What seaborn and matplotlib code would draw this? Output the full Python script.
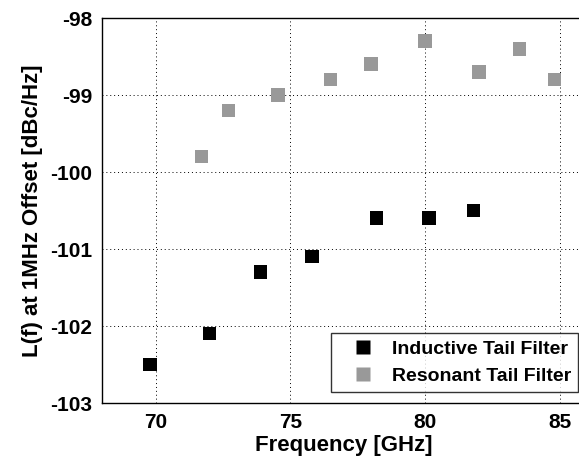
import matplotlib
matplotlib.use("Agg")
import matplotlib.pyplot as plt
import seaborn as sns
import pandas as pd

ind_freq = [69.8, 72.0, 73.9, 75.8, 78.2, 80.15, 81.8]
ind_pn = [-102.5, -102.1, -101.3, -101.1, -100.6, -100.6, -100.5]
res_freq = [71.7, 72.7, 74.55, 76.5, 78.0, 80.0, 82.0, 83.5, 84.8]
res_pn = [-99.8, -99.2, -99.0, -98.8, -98.6, -98.3, -98.7, -98.4, -98.8]
series = ["Inductive Tail Filter", "Resonant Tail Filter"]
xticks = [70, 75, 80, 85]
yticks = [-103, -102, -101, -100, -99, -98]

df = pd.concat([
    pd.DataFrame({"f": ind_freq, "pn": ind_pn, "s": series[0]}),
    pd.DataFrame({"f": res_freq, "pn": res_pn, "s": series[1]}),
])

sns.set_style("white")
plt.rcParams["font.family"] = ["Liberation Sans", "DejaVu Sans"]
plt.rcParams["font.weight"] = "bold"
plt.rcParams["axes.unicode_minus"] = False
plt.rcParams["text.color"] = "black"
plt.rcParams["axes.labelcolor"] = "black"

fig = plt.figure(figsize=(5.79, 4.61), dpi=100)
ax = fig.add_axes([101.7 / 579, 1 - 403 / 461, (586.7 - 101.7) / 579, (403 - 18) / 461])

sns.scatterplot(data=df, x="f", y="pn", hue="s", hue_order=series,
                palette={series[0]: "black", series[1]: "#999999"},
                marker="s", s=95, edgecolor="none", ax=ax, zorder=3)

ax.set_xlim(68, 86)
ax.set_ylim(-103, -98)
ax.set_xticks(xticks)
ax.set_yticks(yticks)
ax.grid(True, color="black", linestyle=(0, (1, 3)), linewidth=0.7)
for sp in ax.spines.values():
    sp.set_color("black")
    sp.set_linewidth(1.0)
ax.tick_params(direction="in", length=4, labelsize=15, colors="black",
               labelcolor="black", width=0.7)
ax.tick_params(axis="y", pad=7)
ax.tick_params(axis="x", pad=7)
for lab in ax.get_xticklabels() + ax.get_yticklabels():
    lab.set_fontweight("bold")
ax.set_xlabel("Frequency [GHz]", fontsize=16, fontweight="bold", labelpad=2, color="black")
ax.set_ylabel("L(f) at 1MHz Offset [dBc/Hz]", fontsize=16, fontweight="bold", labelpad=5, color="black")

leg = ax.legend(loc="lower left", bbox_to_anchor=(330.7 / 579, 1 - 392 / 461),
                bbox_transform=fig.transFigure,
                frameon=True, fancybox=False, edgecolor="black",
                prop={"weight": "bold", "size": 14}, handlelength=2.6,
                handletextpad=0.22, borderpad=0.35,
                borderaxespad=0, markerscale=1.0)
leg.get_frame().set_linewidth(1.0)
for t in leg.get_texts():
    t.set_color("black")

fig.savefig("out.png", dpi=100)
